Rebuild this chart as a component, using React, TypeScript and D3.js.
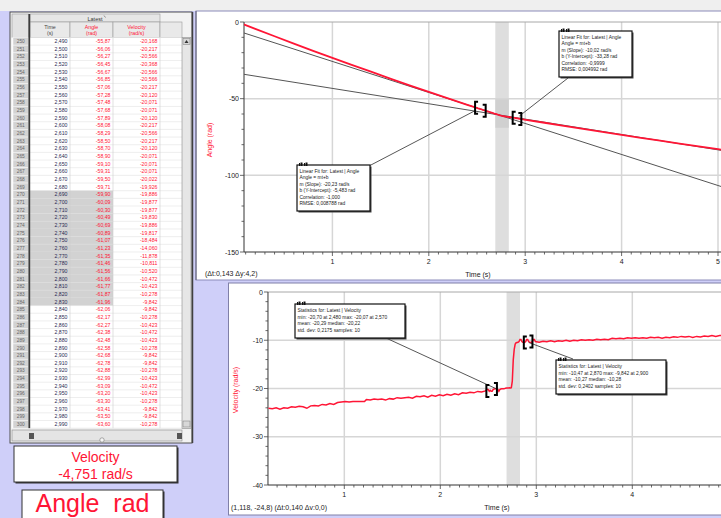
import React from "react";
import * as d3 from "d3";

const FONT = "'Liberation Sans', Arial, sans-serif";
const RED = "#ff1535";
const LAV = "#cfcff9";

// ---------- table data (rows 250..300) ----------
const rowNumbers = [250,251,252,253,254,255,256,257,258,259,260,261,262,263,264,265,266,267,268,269,270,271,272,273,274,275,276,277,278,279,280,281,282,283,284,285,286,287,288,289,290,291,292,293,294,295,296,297,298,299,300];
const tableTime = [2.49,2.5,2.51,2.52,2.53,2.54,2.55,2.56,2.57,2.58,2.59,2.6,2.61,2.62,2.63,2.64,2.65,2.66,2.67,2.68,2.69,2.7,2.71,2.72,2.73,2.74,2.75,2.76,2.77,2.78,2.79,2.8,2.81,2.82,2.83,2.84,2.85,2.86,2.87,2.88,2.89,2.9,2.91,2.92,2.93,2.94,2.95,2.96,2.97,2.98,2.99];
const tableAngle = [-55.87,-56.06,-56.27,-56.45,-56.67,-56.85,-57.06,-57.28,-57.48,-57.68,-57.89,-58.08,-58.29,-58.5,-58.7,-58.9,-59.1,-59.31,-59.5,-59.71,-59.9,-60.09,-60.3,-60.49,-60.69,-60.89,-61.07,-61.23,-61.35,-61.46,-61.56,-61.66,-61.77,-61.87,-61.96,-62.06,-62.17,-62.27,-62.38,-62.48,-62.58,-62.68,-62.78,-62.88,-62.99,-63.09,-63.2,-63.3,-63.41,-63.5,-63.6];
const tableVelocity = [-20.168,-20.217,-20.566,-20.368,-20.566,-20.566,-20.217,-20.12,-20.071,-20.071,-20.12,-20.217,-20.566,-20.217,-20.12,-20.071,-20.071,-20.071,-20.022,-19.926,-19.886,-19.877,-19.877,-19.83,-19.886,-19.817,-18.484,-14.06,-11.878,-10.811,-10.52,-10.472,-10.423,-10.278,-9.842,-9.842,-10.278,-10.423,-10.472,-10.423,-10.278,-9.842,-9.842,-10.278,-10.423,-10.472,-10.423,-10.278,-9.842,-9.842,-10.278];
const selection = [2.69, 2.83];

// ---------- angle curve outside the table ----------
const angleEarlyT = [0.08,0.2,0.4,0.6,0.8,1.0,1.2,1.4,1.6,1.8,2.0,2.2,2.4];
const angleEarlyV = [-1.6,-4.5,-9.3,-14.1,-18.8,-23.4,-28.0,-32.4,-36.9,-41.3,-45.6,-49.8,-54.0];
const angleLateT = [3.2,3.4,3.6,3.8,4.0,4.2,4.4,4.6,4.8,5.0,5.1];
const angleLateV = [-65.7,-67.7,-69.7,-71.6,-73.6,-75.5,-77.4,-79.3,-81.1,-82.9,-83.8];

// ---------- velocity curve outside the table ----------
const velEarlyT = [0.21,0.25,0.29,0.33,0.37,0.41,0.45,0.49,0.53,0.57,0.61,0.65,0.69,0.73,0.77,0.81,0.85,0.89,0.93,0.97,1.01,1.05,1.09,1.13,1.17,1.21,1.23,1.27,1.31,1.35,1.39,1.43,1.47,1.51,1.55,1.59,1.63,1.67,1.71,1.75,1.79,1.83,1.87,1.91,1.95,1.99,2.03,2.07,2.11,2.15,2.19,2.23,2.27,2.31,2.35,2.39,2.43,2.47];
const velEarlyV = [-24.1,-24.2,-24.0,-24.3,-24.0,-24.1,-23.8,-23.9,-23.7,-23.8,-24.1,-23.6,-23.5,-23.6,-23.3,-23.4,-23.1,-23.3,-22.9,-22.8,-22.7,-22.8,-22.7,-22.7,-22.7,-22.7,-22.3,-22.4,-22.2,-22.3,-22.2,-22.4,-22.1,-22.2,-21.9,-22.0,-21.9,-21.8,-22.0,-21.6,-21.7,-21.5,-21.8,-21.4,-21.6,-21.3,-21.5,-21.2,-21.4,-21.1,-21.3,-20.9,-21.0,-20.8,-20.9,-20.6,-20.7,-20.5];
const velLateT = [3.03,3.07,3.11,3.15,3.19,3.23,3.27,3.31,3.35,3.39,3.43,3.47,3.51,3.55,3.59,3.63,3.67,3.71,3.75,3.79,3.83,3.87,3.91,3.95,3.99,4.03,4.07,4.11,4.15,4.19,4.23,4.27,4.31,4.35,4.39,4.43,4.47,4.51,4.55,4.59,4.63,4.67,4.71,4.75,4.79,4.83,4.87,4.91,4.95,4.99,5.03,5.07,5.11];
const velLateV = [-10.4,-10.2,-10.3,-10.1,-10.3,-10.1,-10.2,-10.0,-10.2,-10.0,-10.1,-9.9,-10.0,-9.9,-10.0,-9.8,-9.9,-9.8,-9.9,-9.6,-9.7,-9.6,-9.7,-9.5,-9.6,-9.5,-9.6,-9.5,-9.6,-9.4,-9.5,-9.4,-9.6,-9.4,-9.5,-9.3,-9.4,-9.2,-9.3,-9.2,-9.4,-9.2,-9.3,-9.1,-9.2,-9.0,-9.2,-9.0,-9.1,-8.9,-9.0,-8.9,-9.0];

// ---------- fits / statistics ----------
const fitSlope = [-20.23, -10.02];
const fitIntercept = [-5.483, -33.28];
const rangeA = [2.48, 2.59];
const rangeB = [2.87, 2.96];
const fitText1 = ["Linear Fit for: Latest | Angle", "Angle = mt+b", "m (Slope): -20,23 rad/s", "b (Y-Intercept): -5,483 rad", "Correlation: -1,000", "RMSE: 0,008788 rad"];
const fitText2 = ["Linear Fit for: Latest | Angle", "Angle = mt+b", "m (Slope): -10,02 rad/s", "b (Y-Intercept): -33,28 rad", "Correlation: -0,9999", "RMSE: 0,004992 rad"];
const statText1 = ["Statistics for: Latest | Velocity", "min: -20,70 at 2,480 max: -20,07 at 2,570", "mean: -20,29 median: -20,22", "std. dev: 0,2175 samples: 10"];
const statText2 = ["Statistics for: Latest | Velocity", "min: -10,47 at 2,870 max: -9,842 at 2,900", "mean: -10,27 median: -10,28", "std. dev: 0,2402 samples: 10"];

const topXTicks = [1, 2, 3, 4, 5];
const topYTicks = [0, -50, -100, -150];
const botXTicks = [1, 2, 3, 4];
const botYTicks = [0, -10, -20, -30, -40];

const meterName = "Velocity";
const meterValue = "-4,751 rad/s";
const meter2 = "Angle  rad";

const comma = (v: number, d: number) => v.toFixed(d).replace(".", ",");

// ---------- scales ----------
const tX = d3.scaleLinear().domain([0, 5]).range([236, 718]);
const tY = d3.scaleLinear().domain([-150, 0]).range([252, 22]);
const bX = d3.scaleLinear().domain([0, 4]).range([248.3, 632.3]);
const bY = d3.scaleLinear().domain([-40, 0]).range([485, 292]);
const TL = tX(0.083), TR = 730, TT = tY(0), TB = tY(-150);
const BL = bX(0.205), BR = 730, BT = bY(0), BB = bY(-40);

function Bracket({ x, y, open }: { x: number; y: number; open: boolean }) {
  const h = 6, w = 3;
  const d = open
    ? `M${x + w},${y - h} H${x} V${y + h} H${x + w}`
    : `M${x - w},${y - h} H${x} V${y + h} H${x - w}`;
  return <path d={d} fill="none" stroke="#000" strokeWidth={2} />;
}

function Callout({ x, y, w, h, lines, lh, fs }: { x: number; y: number; w: number; h: number; lines: string[]; lh: number; fs: number }) {
  return (
    <g>
      <rect x={x + 1.5} y={y + 1.5} width={w} height={h} fill="#444" />
      <rect x={x} y={y} width={w} height={h} fill="#fff" stroke="#111" strokeWidth={1.2} />
      <path d={`M${x + 2},${y + 1} v-3 h1 v3 z M${x + 3.5},${y + 1} l0,-3.5 l2,0 l0,3.5 z M${x + 7},${y + 1} v-3 h1 v3 z M${x + 8.5},${y + 1} l0,-3.5 l2,0 l0,3.5 z`} fill="#111" />
      {lines.map((s, i) => (
        <text key={i} x={x + 2.5} y={y + 8 + i * lh} fontSize={fs} fill="#222" fontFamily={FONT}>{s}</text>
      ))}
    </g>
  );
}

export default function App() {
  const anglePts: [number, number][] = [
    ...angleEarlyT.map((t, i) => [t, angleEarlyV[i]] as [number, number]),
    ...tableTime.map((t, i) => [t, tableAngle[i]] as [number, number]),
    ...angleLateT.map((t, i) => [t, angleLateV[i]] as [number, number]),
  ];
  const velPts: [number, number][] = [
    ...velEarlyT.map((t, i) => [t, velEarlyV[i]] as [number, number]),
    ...tableTime.map((t, i) => [t, tableVelocity[i]] as [number, number]),
    ...velLateT.map((t, i) => [t, velLateV[i]] as [number, number]),
  ];
  const angleLine = d3.line<[number, number]>().x((d) => tX(d[0])).y((d) => tY(d[1]))(anglePts) || "";
  const velLine = d3.line<[number, number]>().x((d) => bX(d[0])).y((d) => bY(d[1]))(velPts) || "";

  const topMinorX = d3.range(1, 52).map((i) => i / 10);
  const topMinorY = d3.range(0, 16).map((i) => -i * 10);
  const botMinorX = d3.range(3, 52).map((i) => i / 10);
  const botMinorY = d3.range(0, 21).map((i) => -i * 2);

  const angleAt = (t: number) => {
    const i = d3.bisector((d: [number, number]) => d[0]).center(anglePts, t);
    return anglePts[i][1];
  };
  const velAt = (t: number) => {
    const i = d3.bisector((d: [number, number]) => d[0]).center(velPts, t);
    return velPts[i][1];
  };

  // table geometry
  const rowH = 7.66, row0 = 37.5;
  const cTime = 30, cAngle = 70, cVel = 113, cEnd = 160;

  const tick = "#444";

  return (
    <svg width={721} height={518} style={{ position: "fixed", left: 0, top: 0 }} fontFamily={FONT}>
      <defs>
        <clipPath id="ct"><rect x={TL} y={TT} width={TR - TL} height={TB - TT} /></clipPath>
        <clipPath id="cb"><rect x={BL} y={BT} width={BR - BL} height={BB - BT} /></clipPath>
      </defs>
      <rect x={0} y={0} width={721} height={518} fill={LAV} />
      <rect x={0} y={0} width={721} height={11} fill="#efefef" />

      {/* ================= TABLE ================= */}
      <rect x={10} y={12} width={182} height={431} fill="#f2f2f2" stroke="#505050" strokeWidth={1} />
      <rect x={30} y={14} width={130} height={8} fill="#e6e6e6" stroke="#9a9a9a" strokeWidth={0.6} />
      <text x={95} y={20.5} fontSize={5.5} textAnchor="middle" fill="#333">Latest</text>
      <path d="M104,15.5 l1.5,2" stroke="#555" strokeWidth={0.6} />
      <rect x={12} y={14} width={17} height={23.5} fill="#e2e2e2" stroke="#9a9a9a" strokeWidth={0.6} />
      {[
        { x: cTime, w: cAngle - cTime, a: "Time", b: "(s)", c: "#444" },
        { x: cAngle, w: cVel - cAngle, a: "Angle", b: "(rad)", c: RED },
        { x: cVel, w: cEnd - cVel, a: "Velocity", b: "(rad/s)", c: RED },
        { x: cEnd, w: 22, a: "", b: "", c: "#444" },
      ].map((h, i) => (
        <g key={i}>
          <rect x={h.x} y={22} width={h.w} height={15.5} fill="#e9e9e9" stroke="#9a9a9a" strokeWidth={0.6} />
          <text x={h.x + h.w / 2} y={28.5} fontSize={5.3} textAnchor="middle" fill={h.c}>{h.a}</text>
          <text x={h.x + h.w / 2} y={35} fontSize={5.3} textAnchor="middle" fill={h.c}>{h.b}</text>
        </g>
      ))}
      <rect x={12} y={row0} width={170} height={rowH * 51} fill="#fff" />
      {rowNumbers.map((n, i) => {
        const y = row0 + i * rowH;
        const sel = tableTime[i] >= selection[0] - 1e-9 && tableTime[i] <= selection[1] + 1e-9;
        return (
          <g key={n}>
            <rect x={13} y={y} width={15.5} height={rowH} fill="#d3d3d3" stroke="#f4f4f4" strokeWidth={0.6} />
            {sel && <rect x={cTime} y={y} width={cVel - cTime} height={rowH} fill="#d2d2d2" />}
            <line x1={cTime} x2={182} y1={y + rowH} y2={y + rowH} stroke="#e2e2e2" strokeWidth={0.6} />
            <text x={20.8} y={y + 5.6} fontSize={4.8} textAnchor="middle" fill="#666">{n}</text>
            <text x={cAngle - 2.5} y={y + 5.6} fontSize={5.2} textAnchor="end" fill="#2b2b52">{comma(tableTime[i], 3)}</text>
            <text x={cVel - 2.5} y={y + 5.6} fontSize={5.2} textAnchor="end" fill={RED}>{comma(tableAngle[i], 2)}</text>
            <text x={cEnd - 2.5} y={y + 5.6} fontSize={5.2} textAnchor="end" fill={RED}>{comma(tableVelocity[i], 3)}</text>
          </g>
        );
      })}
      {[cAngle, cVel, cEnd].map((x) => (
        <line key={x} x1={x} x2={x} y1={row0} y2={row0 + rowH * 51} stroke="#cfcfcf" strokeWidth={0.6} />
      ))}
      <rect x={28.4} y={14} width={1.8} height={row0 + rowH * 51 - 14} fill="#3c3c3c" />
      {/* vertical scrollbar */}
      <rect x={182} y={37.5} width={9} height={391} fill="#e6e6e6" stroke="#8a8a8a" strokeWidth={0.6} />
      <rect x={183} y={38.5} width={7} height={6} fill="#d8d8d8" stroke="#777" strokeWidth={0.5} />
      <path d="M184.5,43 l2,-3 l2,3 z" fill="#333" />
      <rect x={183} y={421} width={7} height={6} fill="#d8d8d8" stroke="#777" strokeWidth={0.5} />
      {/* horizontal scrollbar */}
      <rect x={12} y={430} width={170} height={11} fill="#e4e4e4" stroke="#8a8a8a" strokeWidth={0.6} />
      <rect x={29} y={433} width={5} height={6} fill="#555" />
      <rect x={177} y={433} width={5} height={6} fill="#555" />
      <circle cx={102} cy={440} r={2.2} fill="#f5f5f5" stroke="#777" strokeWidth={0.6} />
      <line x1={192.5} x2={192.5} y1={12} y2={443} stroke="#404040" strokeWidth={1.5} />

      {/* ================= METERS ================= */}
      <rect x={15.5} y={447.5} width={163} height={36} fill="#333" />
      <rect x={14} y={446} width={163} height={36} fill="#fff" stroke="#333" strokeWidth={1} />
      <text x={95.5} y={462} fontSize={14} textAnchor="middle" fill={RED}>{meterName}</text>
      <text x={95.5} y={478.5} fontSize={14} textAnchor="middle" fill={RED}>{meterValue}</text>
      <rect x={23.5} y={491.5} width={141} height={40} fill="#333" />
      <rect x={22} y={490} width={141} height={40} fill="#fff" stroke="#333" strokeWidth={1} />
      <text x={92.5} y={512} fontSize={25} textAnchor="middle" fill={RED} xmlSpace="preserve">{meter2}</text>

      {/* ================= TOP GRAPH ================= */}
      <rect x={196} y={11} width={540} height={269} fill="#fff" stroke="#8c8cba" strokeWidth={1} />
      <line x1={196} x2={196} y1={11} y2={280} stroke="#606070" strokeWidth={1} />
      {/* selection band */}
      <rect x={tX(selection[0])} y={TT} width={tX(selection[1]) - tX(selection[0])} height={TB - TT} fill="#dedede" />
      <rect x={tX(selection[0])} y={tY(-50)} width={tX(selection[1]) - tX(selection[0])} height={tY(-69) - tY(-50)} fill="#d0d0d0" />
      {/* grid */}
      {topXTicks.map((t) => (
        <line key={t} x1={tX(t)} x2={tX(t)} y1={TT} y2={TB} stroke="#d6d6d6" strokeWidth={1.5} />
      ))}
      {topYTicks.slice(1, 3).map((v) => (
        <line key={v} x1={TL} x2={TR} y1={tY(v)} y2={tY(v)} stroke="#d6d6d6" strokeWidth={1.5} />
      ))}
      <line x1={TL} x2={TR} y1={TT} y2={TT} stroke="#a8a8a8" strokeWidth={1} />
      {/* axes */}
      <line x1={TL} x2={TL} y1={TT} y2={TB} stroke="#333" strokeWidth={1} />
      <line x1={TL} x2={TR} y1={TB} y2={TB} stroke="#333" strokeWidth={1} />
      {topMinorX.map((t) => {
        const major = Math.abs(t - Math.round(t)) < 1e-6;
        return <line key={t} x1={tX(t)} x2={tX(t)} y1={TB} y2={TB + (major ? 4 : 2.5)} stroke={tick} strokeWidth={0.8} />;
      })}
      {topMinorY.map((v) => {
        const major = v % 50 === 0;
        return <line key={v} x1={TL} x2={TL - (major ? 4 : 2.5)} y1={tY(v)} y2={tY(v)} stroke={tick} strokeWidth={0.8} />;
      })}
      {topXTicks.map((t) => (
        <text key={t} x={tX(t)} y={TB + 12} fontSize={7} textAnchor="middle" fill="#222">{t}</text>
      ))}
      {topYTicks.map((v) => (
        <text key={v} x={TL - 5} y={tY(v) + 2.5} fontSize={7} textAnchor="end" fill="#222">{v}</text>
      ))}
      <text transform={`translate(212,140) rotate(-90)`} fontSize={7} textAnchor="middle" fill={RED}>Angle (rad)</text>
      <text x={478} y={277} fontSize={7} textAnchor="middle" fill="#222">Time (s)</text>
      <text x={205} y={276} fontSize={7} fill="#222">(Δt:0,143 Δy:4,2)</text>
      {/* fit lines and curve */}
      <g clipPath="url(#ct)">
        {fitSlope.map((m, i) => (
          <line key={i} x1={tX(0.083)} y1={tY(m * 0.083 + fitIntercept[i])} x2={tX(5.2)} y2={tY(m * 5.2 + fitIntercept[i])} stroke="#555" strokeWidth={1} />
        ))}
        <path d={angleLine} fill="none" stroke={RED} strokeWidth={1.8} />
      </g>
      <line x1={369} y1={166} x2={tX(rangeA[0])} y2={tY(angleAt(rangeA[0])) + 3} stroke="#444" strokeWidth={0.9} />
      <line x1={568} y1={78} x2={tX(rangeB[1]) - 2} y2={tY(angleAt(rangeB[1])) - 3} stroke="#444" strokeWidth={0.9} />
      {[rangeA, rangeB].map((r, i) => (
        <g key={i}>
          <Bracket x={tX(r[0])} y={tY(angleAt(r[0]))} open={true} />
          <Bracket x={tX(r[1])} y={tY(angleAt(r[1]))} open={false} />
        </g>
      ))}
      <Callout x={297} y={165} w={73} h={46} lines={fitText1} lh={6.4} fs={4.9} />
      <Callout x={559} y={31} w={73} h={46} lines={fitText2} lh={6.4} fs={4.9} />

      {/* ================= BOTTOM GRAPH ================= */}
      <rect x={228.5} y={283} width={520} height={232} fill="#fff" stroke="#8080a8" strokeWidth={1} />
      <rect x={bX(selection[0])} y={BT} width={bX(selection[1]) - bX(selection[0])} height={BB - BT} fill="#dedede" />
      {botXTicks.map((t) => (
        <line key={t} x1={bX(t)} x2={bX(t)} y1={BT} y2={BB} stroke="#d6d6d6" strokeWidth={1.5} />
      ))}
      {botYTicks.slice(1, 4).map((v) => (
        <line key={v} x1={BL} x2={BR} y1={bY(v)} y2={bY(v)} stroke="#d6d6d6" strokeWidth={1.5} />
      ))}
      <line x1={BL} x2={BR} y1={BT} y2={BT} stroke="#a8a8a8" strokeWidth={1} />
      <line x1={BL} x2={BL} y1={BT} y2={BB} stroke="#333" strokeWidth={1} />
      <line x1={BL} x2={BR} y1={BB} y2={BB} stroke="#333" strokeWidth={1} />
      {botMinorX.map((t) => {
        const major = Math.abs(t - Math.round(t)) < 1e-6;
        return <line key={t} x1={bX(t)} x2={bX(t)} y1={BB} y2={BB + (major ? 4 : 2.5)} stroke={tick} strokeWidth={0.8} />;
      })}
      {botMinorY.map((v) => {
        const major = v % 10 === 0;
        return <line key={v} x1={BL} x2={BL - (major ? 4 : 2.5)} y1={bY(v)} y2={bY(v)} stroke={tick} strokeWidth={0.8} />;
      })}
      {botXTicks.map((t) => (
        <text key={t} x={bX(t)} y={BB + 12} fontSize={7} textAnchor="middle" fill="#222">{t}</text>
      ))}
      {botYTicks.map((v) => (
        <text key={v} x={BL - 5} y={bY(v) + 2.5} fontSize={7} textAnchor="end" fill="#222">{v}</text>
      ))}
      <text transform={`translate(238,390) rotate(-90)`} fontSize={7} textAnchor="middle" fill={RED}>Velocity (rad/s)</text>
      <text x={497} y={510} fontSize={7} textAnchor="middle" fill="#222">Time (s)</text>
      <text x={231} y={510} fontSize={7} fill="#222">(1,118, -24,8) (Δt:0,140 Δv:0,0)</text>
      <g clipPath="url(#cb)">
        <path d={velLine} fill="none" stroke={RED} strokeWidth={1.5} />
      </g>
      <line x1={386} y1={338} x2={bX(rangeA[1])} y2={bY(velAt(rangeA[1]))} stroke="#444" strokeWidth={0.9} />
      <line x1={573} y1={359} x2={bX(rangeB[0]) + 5} y2={bY(velAt(rangeB[0]))} stroke="#444" strokeWidth={0.9} />
      {[rangeA, rangeB].map((r, i) => (
        <g key={i}>
          <Bracket x={bX(r[0])} y={bY(velAt(r[0]))} open={true} />
          <Bracket x={bX(r[1])} y={bY(velAt(r[1]))} open={false} />
        </g>
      ))}
      <Callout x={295} y={304} w={110} h={34} lines={statText1} lh={6.6} fs={4.9} />
      <Callout x={556} y={360} w={110} h={34} lines={statText2} lh={6.6} fs={4.9} />
    </svg>
  );
}
